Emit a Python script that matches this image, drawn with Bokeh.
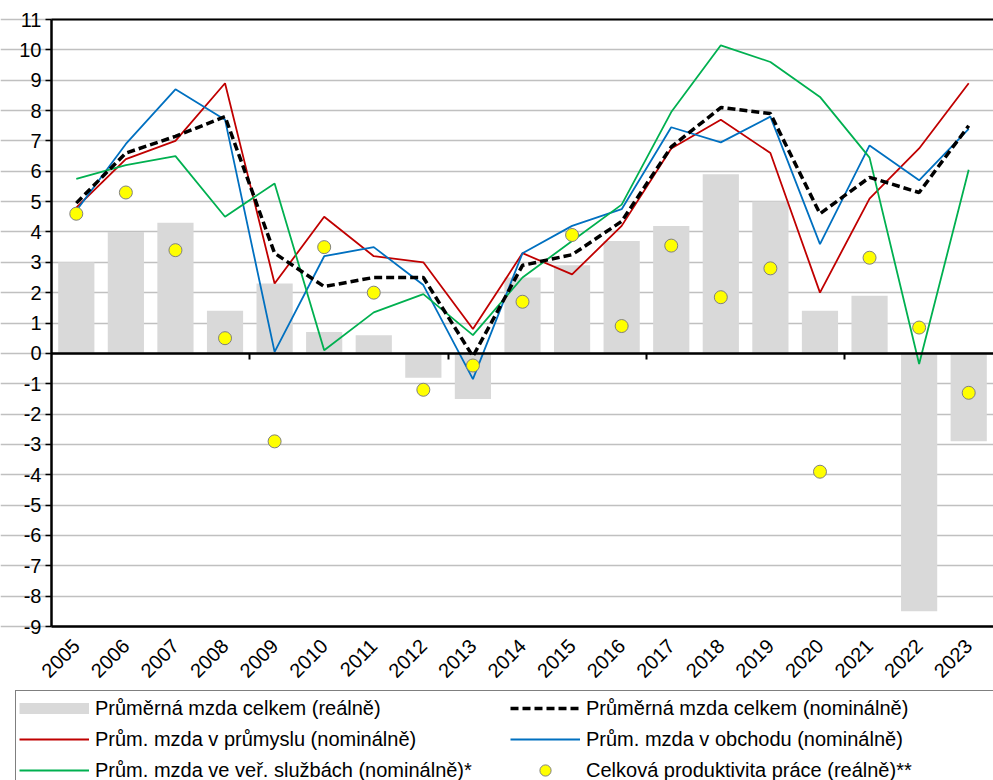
from bokeh.plotting import figure
from bokeh.models import (FixedTicker, Legend, LegendItem, Range1d, PrintfTickFormatter,
                          LinearAxis, Grid)
from bokeh.embed import file_html
from bokeh.resources import INLINE

years = ["2005", "2006", "2007", "2008", "2009", "2010", "2011", "2012", "2013", "2014",
         "2015", "2016", "2017", "2018", "2019", "2020", "2021", "2022", "2023"]
real_total = [3.0, 4.0, 4.3, 1.4, 2.3, 0.7, 0.6, -0.8, -1.5, 2.5, 2.9, 3.7, 4.2, 5.9, 5.0, 1.4, 1.9, -8.5, -2.9]
nominal_total = [4.95, 6.6, 7.15, 7.8, 3.3, 2.2, 2.5, 2.5, -0.1, 2.9, 3.25, 4.35, 6.8, 8.1, 7.9, 4.6, 5.8, 5.3, 7.5]
industry = [4.8, 6.4, 7.0, 8.9, 2.3, 4.5, 3.2, 3.0, 0.8, 3.3, 2.6, 4.2, 6.75, 7.7, 6.6, 2.0, 5.1, 6.75, 8.9]
trade = [4.7, 6.9, 8.7, 7.7, 0.05, 3.2, 3.5, 2.25, -0.85, 3.3, 4.2, 4.75, 7.45, 6.95, 7.8, 3.6, 6.85, 5.7, 7.4]
public = [5.75, 6.2, 6.5, 4.5, 5.6, 0.1, 1.35, 1.95, 0.6, 2.5, 3.7, 4.9, 7.95, 10.15, 9.6, 8.45, 6.45, -0.35, 6.05]
productivity = [4.6, 5.3, 3.4, 0.5, -2.9, 3.5, 2.0, -1.2, -0.4, 1.7, 3.9, 0.9, 3.55, 1.85, 2.8, -3.9, 3.15, 0.85, -1.3]
y_ticks = list(range(-9, 12))
y_min, y_max = -9, 11

labels = ["Průměrná mzda celkem (reálně)", "Průměrná mzda celkem (nominálně)",
          "Prům. mzda v průmyslu (nominálně)", "Prům. mzda v obchodu (nominálně)",
          "Prům. mzda ve veř. službách (nominálně)*", "Celková produktivita práce (reálně)**"]

FONT = "Liberation Sans"
W, H = 993, 780
LEFT, TOP, BOTTOM = 51, 19, 626  # pixel positions of the plot box

xs = list(range(len(years)))
n = len(years)
px_x = (W - LEFT) / n
px_y = (BOTTOM - TOP) / (y_max - y_min)
x_range = Range1d(-0.5 - LEFT / px_x, n - 0.5)
y_range = Range1d(y_min - (H - BOTTOM) / px_y, y_max + TOP / px_y)

p = figure(x_range=x_range, y_range=y_range, width=W, height=H,
           x_axis_location=None, y_axis_location=None,
           min_border_left=0, min_border_top=0, min_border_right=0, min_border_bottom=0,
           output_backend="svg", toolbar_location=None, background_fill_color="white")
p.outline_line_color = None
p.xgrid.visible = False
p.ygrid.visible = False

xb = (-0.5, n - 0.5)
p.add_layout(Grid(dimension=1, ticker=FixedTicker(ticks=y_ticks), bounds=xb,
                  grid_line_color="#c0c0c0", grid_line_width=1.5))

yaxis = LinearAxis(fixed_location=-0.5, bounds=(y_min, y_max), ticker=FixedTicker(ticks=y_ticks),
                   formatter=PrintfTickFormatter(format="%d"),
                   axis_line_color="black", axis_line_width=2.5,
                   major_tick_line_color="black", major_tick_line_width=1.5,
                   major_tick_out=6, major_tick_in=0, minor_tick_line_color=None,
                   major_label_text_font=FONT, major_label_text_font_size="20px",
                   major_label_text_color="black", major_label_standoff=4)
p.add_layout(yaxis, "left")

bottom_axis = LinearAxis(fixed_location=y_min, bounds=xb, ticker=FixedTicker(ticks=xs),
                         major_label_overrides={i: years[i] for i in xs},
                         axis_line_color="black", axis_line_width=2.5,
                         major_tick_line_color=None, minor_tick_line_color=None,
                         major_label_orientation=0.785,
                         major_label_text_font=FONT, major_label_text_font_size="20px",
                         major_label_text_color="black", major_label_standoff=10)
p.add_layout(bottom_axis, "below")

top_axis = LinearAxis(fixed_location=y_max, bounds=xb, ticker=FixedTicker(ticks=[]),
                      axis_line_color="black", axis_line_width=2,
                      major_tick_line_color=None, minor_tick_line_color=None)
p.add_layout(top_axis, "above")

bars = p.vbar(x=xs, top=real_total, width=0.73, fill_color="#d9d9d9", line_color=None)

cat_ticks = [3.5, 7.5, 11.5, 15.5]
zero_axis = LinearAxis(fixed_location=0, bounds=xb, ticker=FixedTicker(ticks=cat_ticks),
                       major_label_overrides={t: "" for t in cat_ticks},
                       axis_line_color="black", axis_line_width=2.5,
                       major_tick_line_color="black", major_tick_line_width=2,
                       major_tick_out=6, major_tick_in=0, minor_tick_line_color=None)
p.add_layout(zero_axis, "below")

l_ind = p.line(xs, industry, line_color="#c00000", line_width=1.8)
l_tr = p.line(xs, trade, line_color="#0070c0", line_width=1.8)
l_pub = p.line(xs, public, line_color="#00b050", line_width=1.8)
l_nom = p.line(xs, nominal_total, line_color="black", line_width=3.5, line_dash="8 4")
dots = p.scatter(xs, productivity, size=13, fill_color="#ffff00", line_color="#808080", line_width=1)

# legend-only swatch for the bars (thin grey band, as in the original legend); NaN = not drawn
bar_key = p.line([float("nan")], [float("nan")], line_color="#d9d9d9", line_width=11)

# Bokeh fills legend columns top-to-bottom, so order the items column by column
legend = Legend(items=[
    LegendItem(label=labels[0], renderers=[bar_key]),
    LegendItem(label=labels[2], renderers=[l_ind]),
    LegendItem(label=labels[4], renderers=[l_pub]),
    LegendItem(label=labels[1], renderers=[l_nom]),
    LegendItem(label=labels[3], renderers=[l_tr]),
    LegendItem(label=labels[5], renderers=[dots]),
], ncols=2)
legend.label_text_font = FONT
legend.label_text_font_size = "20px"
legend.label_text_color = "black"
legend.glyph_width = 70
legend.glyph_height = 28
legend.label_height = 20
legend.label_standoff = 6
legend.label_width = 412
legend.spacing = 3
legend.padding = 3
legend.margin = 0
legend.border_line_color = "black"
legend.border_line_width = 1
legend.background_fill_color = "white"
legend.background_fill_alpha = 1
legend.location = (15, -8)
p.add_layout(legend, "center")

open("out.html", "w").write(file_html(p, INLINE))
